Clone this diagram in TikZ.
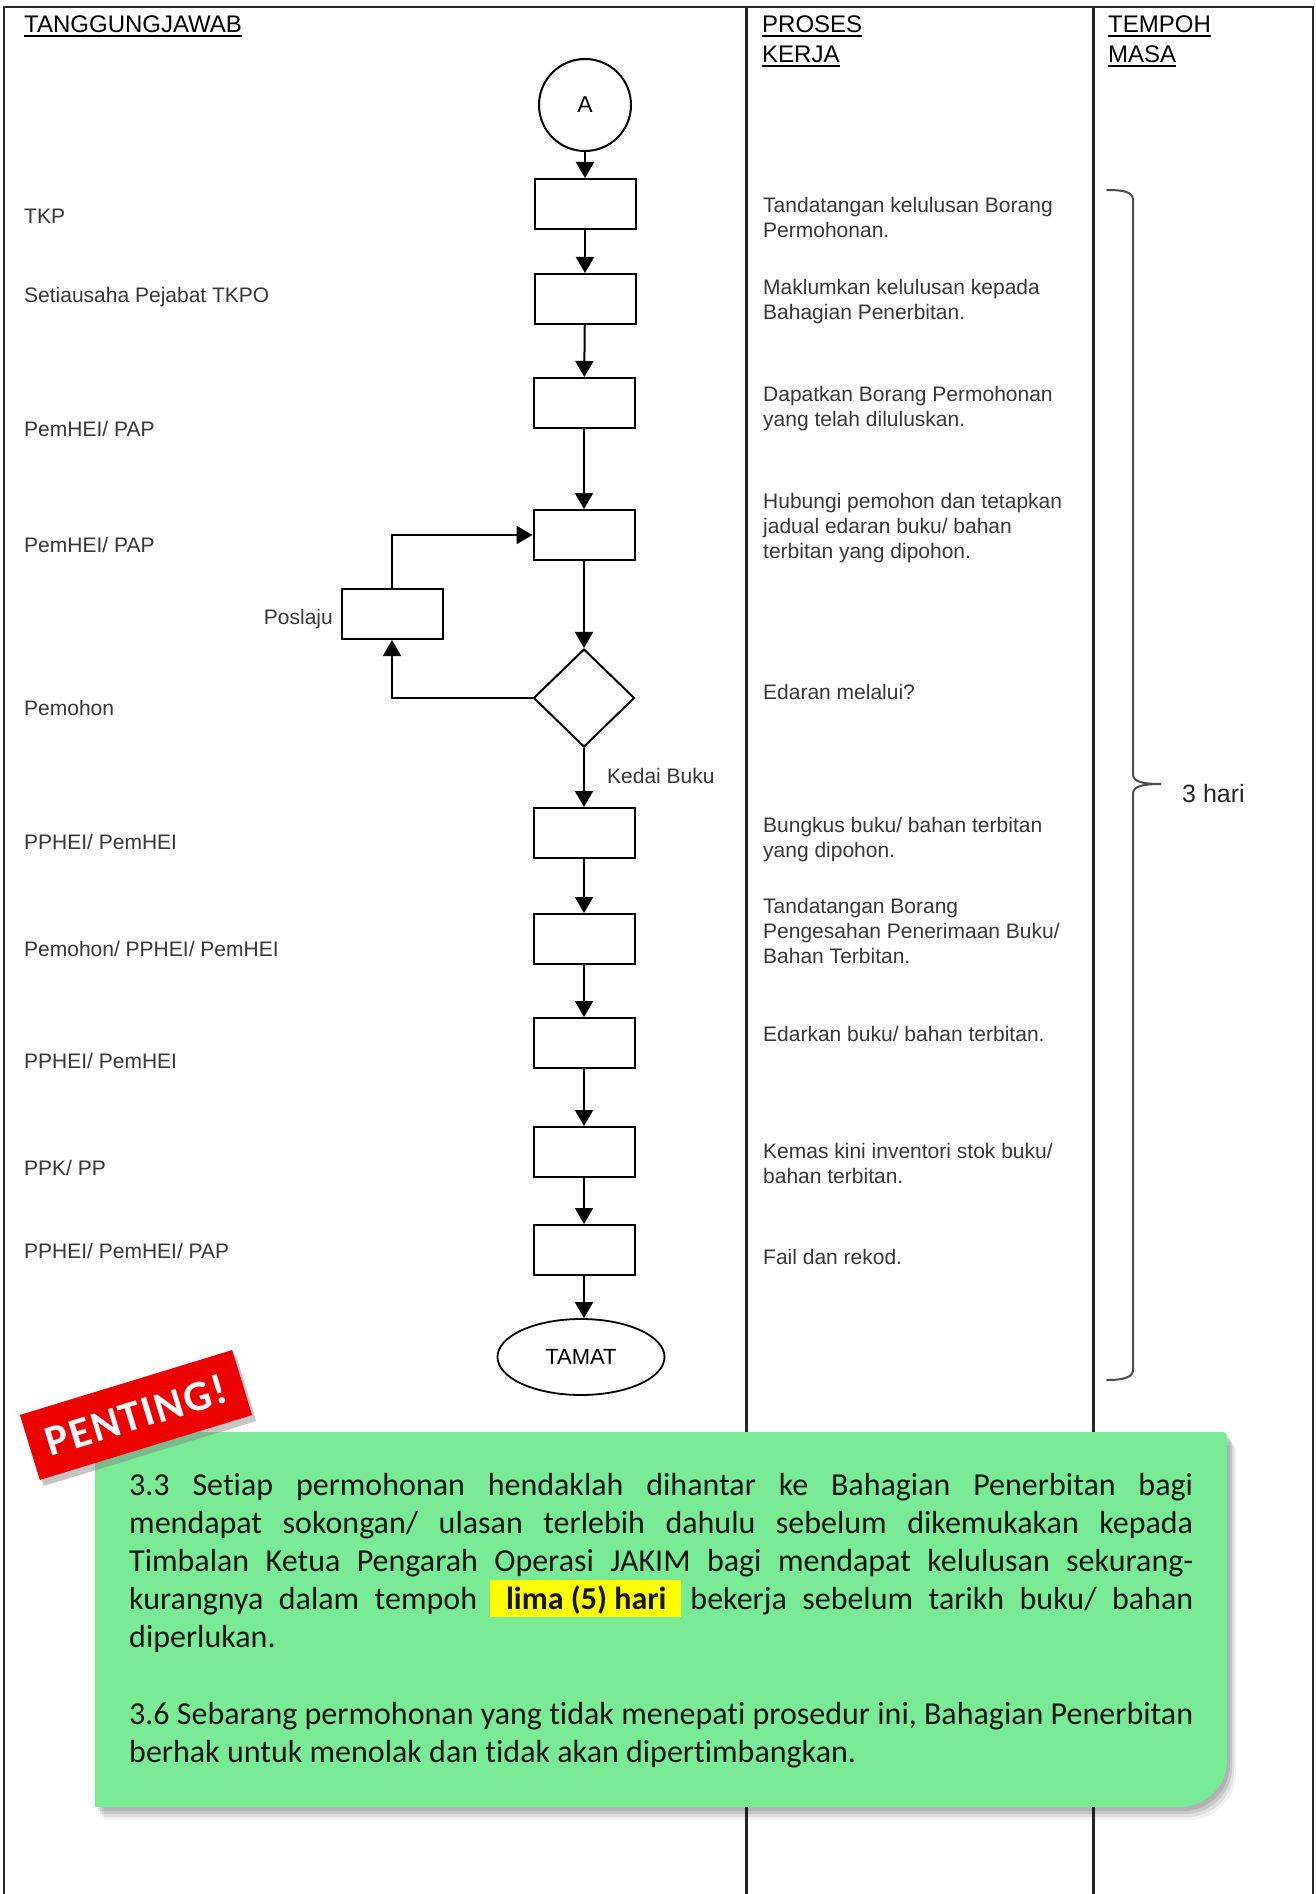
\documentclass[tikz,border=0pt]{standalone}
\usepackage{fontspec}
\setmainfont{Liberation Sans}
\newfontfamily\calibri[Ligatures=NoCommon]{Carlito}
\newfontfamily\calibrisp[LetterSpace=4]{Carlito}
\usetikzlibrary{arrows.meta,shapes.geometric,shadows}
\definecolor{notegreen}{RGB}{120,235,148}
\definecolor{txtgray}{RGB}{55,55,55}
\definecolor{pentred}{RGB}{236,0,0}
\definecolor{hiyellow}{RGB}{255,255,0}
\begin{document}
\begin{tikzpicture}[x=1pt,y=-1pt,
  frame/.style={line width=2.2pt, black!85},
  flowbox/.style={draw, line width=2pt, minimum width=101pt, minimum height=50pt, inner sep=0pt},
  arr/.style={line width=2pt, -{Triangle[width=18pt,length=16pt]}},
  lbl/.style={anchor=base west, inner sep=0pt, text=txtgray, font=\fontsize{21}{25}\selectfont},
  hdr/.style={anchor=base west, inner sep=0pt, text=black, font=\fontsize{24}{30}\selectfont},
  ul/.style={line width=2pt, black},
  noteln/.style={anchor=base west, inner sep=0pt, text=black!92, font=\calibri\fontsize{32}{38}\selectfont},
  notepath/.style={insert path={(95,1432) -- (1223,1432) .. controls (1225,1432) and (1227,1434) .. (1227,1436) -- (1227,1760) .. controls (1227,1786) and (1206,1807) .. (1180,1807) -- (95,1807) -- cycle}},
]
\useasboundingbox (0,0) rectangle (1315,1894);
\fill[white] (0,0) rectangle (1315,1894);

% frame
\draw[frame] (4,1894) -- (4,7) -- (1313,7) -- (1313,1894);
\draw[frame] (746.5,7) -- (746.5,1894);
\draw[frame] (1093.5,7) -- (1093.5,1894);

% headers
\node[hdr] (h1) at (24,33) {TANGGUNGJAWAB};
\node[hdr] (h2) at (762,33) {PROSES};
\node[hdr] (h3) at (762,63) {KERJA};
\node[hdr] (h4) at (1108,33) {TEMPOH};
\node[hdr] (h5) at (1108,63) {MASA};
\foreach \h in {h1,h2,h3,h4,h5}
  \draw[ul] ([yshift=-3.5pt]\h.base west) -- ([yshift=-3.5pt]\h.base east);

% flowchart
\node[circle, draw, line width=2pt, minimum size=92pt, inner sep=0pt, font=\fontsize{23}{23}\selectfont] (A) at (585,105) {A};
\node[flowbox] (b1) at (585,204) {};
\node[flowbox] (b2) at (585,299) {};
\node[flowbox] (b3) at (584,403) {};
\node[flowbox] (b4) at (584,535) {};
\node[diamond, draw, line width=2pt, minimum width=101pt, minimum height=98pt, inner sep=0pt] (dia) at (584,698) {};
\node[flowbox] (pos) at (392,614) {};
\node[flowbox] (b7) at (584,833) {};
\node[flowbox] (b8) at (584,939) {};
\node[flowbox] (b9) at (584,1043) {};
\node[flowbox] (b10) at (584,1152) {};
\node[flowbox] (b11) at (584,1250) {};
\node[ellipse, draw, line width=1.8pt, minimum width=167pt, minimum height=76pt, inner sep=0pt, font=\fontsize{22}{22}\selectfont] (tamat) at (581,1357) {TAMAT};

\draw[arr] (A) -- (b1);
\draw[arr] (b1) -- (b2);
\draw[arr] (b2) -- (b3);
\draw[arr] (b3) -- (b4);
\draw[arr] (b4) -- (dia);
\draw[arr] (dia) -- (b7);
\draw[arr] (dia.west) -| (pos.south);
\draw[arr] (pos.north) |- (b4.west);
\draw[arr] (b7) -- (b8);
\draw[arr] (b8) -- (b9);
\draw[arr] (b9) -- (b10);
\draw[arr] (b10) -- (b11);
\draw[arr] (b11.south) -- (b11.south |- tamat.north);

\node[lbl, anchor=base east] (lpos) at (333,624) {Poslaju};
\node[lbl] (lkedai) at (607,783) {Kedai Buku};

% left column
\node[lbl] (r1) at (24,224) {TKP};
\node[lbl] (r2) at (24,302) {Setiausaha Pejabat TKPO};
\node[lbl] (r3) at (24,436) {PemHEI/ PAP};
\node[lbl] (r4) at (24,552) {PemHEI/ PAP};
\node[lbl] (r5) at (24,715) {Pemohon};
\node[lbl] (r6) at (24,849) {PPHEI/ PemHEI};
\node[lbl] (r7) at (24,956) {Pemohon/ PPHEI/ PemHEI};
\node[lbl] (r8) at (24,1068) {PPHEI/ PemHEI};
\node[lbl] (r9) at (24,1175) {PPK/ PP};
\node[lbl] (r10) at (24,1258) {PPHEI/ PemHEI/ PAP};

% middle column
\node[lbl] (p1a) at (763,213) {Tandatangan kelulusan Borang};
\node[lbl] (p1b) at (763,238) {Permohonan.};
\node[lbl] (p2a) at (763,294) {Maklumkan kelulusan kepada};
\node[lbl] (p2b) at (763,319) {Bahagian Penerbitan.};
\node[lbl] (p3a) at (763,401) {Dapatkan Borang Permohonan};
\node[lbl] (p3b) at (763,426) {yang telah diluluskan.};
\node[lbl] (p4a) at (763,508) {Hubungi pemohon dan tetapkan};
\node[lbl] (p4b) at (763,533) {jadual edaran buku/ bahan};
\node[lbl] (p4c) at (763,558) {terbitan yang dipohon.};
\node[lbl] (p5a) at (763,699) {Edaran melalui?};
\node[lbl] (p6a) at (763,832) {Bungkus buku/ bahan terbitan};
\node[lbl] (p6b) at (763,857) {yang dipohon.};
\node[lbl] (p7a) at (763,913) {Tandatangan Borang};
\node[lbl] (p7b) at (763,938) {Pengesahan Penerimaan Buku/};
\node[lbl] (p7c) at (763,963) {Bahan Terbitan.};
\node[lbl] (p8a) at (763,1041) {Edarkan buku/ bahan terbitan.};
\node[lbl] (p9a) at (763,1158) {Kemas kini inventori stok buku/};
\node[lbl] (p9b) at (763,1183) {bahan terbitan.};
\node[lbl] (p10a) at (763,1264) {Fail dan rekod.};

% brace
\draw[line width=2pt, black!70, line cap=round]
  (1107,190) .. controls (1124,190) and (1133,192) .. (1133,200)
  -- (1133,774) .. controls (1133,781) and (1140,784) .. (1161,784)
  .. controls (1140,784) and (1133,787) .. (1133,794)
  -- (1133,1370) .. controls (1133,1377) and (1124,1380) .. (1107,1380);
\node[lbl, text=black!85, font=\fontsize{25}{30}\selectfont] (hari) at (1182,802) {3 hari};

% note box with shadow
\fill[black, opacity=0.10, xshift=3pt, yshift=-4pt, notepath];
\fill[black, opacity=0.10, xshift=5pt, yshift=-7pt, notepath];
\fill[black, opacity=0.08, xshift=7pt, yshift=-10pt, notepath];
\fill[black, opacity=0.05, xshift=9pt, yshift=-13pt, notepath];
\fill[notegreen, notepath];

\node[noteln] (n1) at (129,1495) {\makebox[1064pt][s]{3.3 Setiap permohonan hendaklah dihantar ke Bahagian Penerbitan bagi}};
\node[noteln] (n2) at (129,1533.2) {\makebox[1064pt][s]{mendapat sokongan/ ulasan terlebih dahulu sebelum dikemukakan kepada}};
\node[noteln] (n3) at (129,1571.4) {\makebox[1064pt][s]{Timbalan Ketua Pengarah Operasi JAKIM bagi mendapat kelulusan sekurang-}};
\node[noteln] (n4) at (129,1609.6) {\makebox[1064pt][s]{kurangnya dalam tempoh\hspace{13pt}{\setlength{\fboxsep}{0pt}\colorbox{hiyellow}{\rule[-7pt]{0pt}{37pt}\hspace{16pt}\textbf{lima (5) hari}\hspace{15pt}}}\hspace{9pt}bekerja sebelum tarikh buku/ bahan}};
\node[noteln] (n5) at (129,1647.8) {diperlukan.};
\node[noteln] (n6) at (129,1724.2) {\makebox[1064pt][s]{3.6 Sebarang permohonan yang tidak menepati prosedur ini, Bahagian Penerbitan}};
\node[noteln] (n7) at (129,1762.4) {berhak untuk menolak dan tidak akan dipertimbangkan.};

% PENTING label
\node[rotate=17, fill=pentred, text=white, font=\calibrisp\bfseries\fontsize{43}{43}\selectfont,
      minimum width=222pt, minimum height=68pt, inner sep=0pt,
      drop shadow={opacity=0.45, shadow xshift=4pt, shadow yshift=-6pt}] (pent) at (136,1415) {PENTING!};
\end{tikzpicture}
\end{document}
